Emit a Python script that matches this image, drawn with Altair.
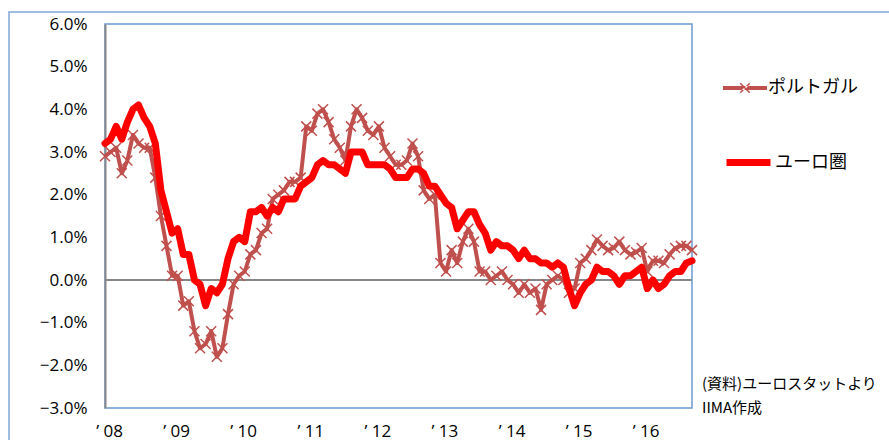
import altair as alt
import pandas as pd

# ---- data (monthly HICP y/y, %, Jan 2008 - Oct 2016) ----
portugal = [
    2.9, 3.0, 3.1, 2.5, 2.8, 3.4, 3.2, 3.1, 3.1, 2.4, 1.5, 0.8,      # 2008
    0.1, 0.1, -0.6, -0.5, -1.2, -1.6, -1.5, -1.2, -1.8, -1.6, -0.8, -0.1,  # 2009
    0.1, 0.2, 0.6, 0.7, 1.1, 1.2, 1.9, 2.0, 2.1, 2.3, 2.3, 2.4,      # 2010
    3.6, 3.5, 3.9, 4.0, 3.7, 3.3, 3.1, 2.8, 3.6, 4.0, 3.8, 3.5,      # 2011
    3.4, 3.6, 3.1, 2.9, 2.7, 2.7, 2.8, 3.2, 2.9, 2.1, 1.9, 2.0,      # 2012
    0.4, 0.2, 0.7, 0.4, 0.9, 1.2, 0.9, 0.2, 0.2, 0.0, 0.1, 0.2,      # 2013
    0.0, -0.1, -0.3, -0.1, -0.3, -0.2, -0.7, -0.1, 0.0, 0.1, 0.0, -0.3,  # 2014
    -0.2, 0.4, 0.5, 0.7, 0.95, 0.8, 0.7, 0.75, 0.9, 0.7, 0.6, 0.65,  # 2015
    0.75, 0.2, 0.45, 0.45, 0.4, 0.6, 0.75, 0.8, 0.8, 0.7,            # 2016
]
eurozone = [
    3.2, 3.3, 3.6, 3.3, 3.7, 4.0, 4.1, 3.8, 3.6, 3.2, 2.1, 1.6,      # 2008
    1.1, 1.2, 0.6, 0.6, 0.0, -0.1, -0.6, -0.2, -0.3, -0.1, 0.5, 0.9,  # 2009
    1.0, 0.9, 1.6, 1.6, 1.7, 1.5, 1.7, 1.6, 1.9, 1.9, 1.9, 2.2,      # 2010
    2.3, 2.4, 2.7, 2.8, 2.7, 2.7, 2.6, 2.5, 3.0, 3.0, 3.0, 2.7,      # 2011
    2.7, 2.7, 2.7, 2.6, 2.4, 2.4, 2.4, 2.6, 2.6, 2.5, 2.2, 2.2,      # 2012
    2.0, 1.8, 1.7, 1.2, 1.4, 1.6, 1.6, 1.3, 1.1, 0.7, 0.9, 0.8,      # 2013
    0.8, 0.7, 0.5, 0.7, 0.5, 0.5, 0.4, 0.4, 0.3, 0.4, 0.3, -0.2,     # 2014
    -0.6, -0.3, -0.1, 0.0, 0.3, 0.2, 0.2, 0.1, -0.1, 0.1, 0.1, 0.2,  # 2015
    0.3, -0.2, 0.0, -0.2, -0.1, 0.1, 0.2, 0.2, 0.4, 0.45,            # 2016
]
year_labels = ["\u2019 08", "\u2019 09", "\u2019 10", "\u2019 11", "\u2019 12",
               "\u2019 13", "\u2019 14", "\u2019 15", "\u2019 16"]
series_names = ["ポルトガル", "ユーロ圏"]
series_colors = ["#C0504D", "#FF0000"]
y_ticks = [-3, -2, -1, 0, 1, 2, 3, 4, 5, 6]
source_note = ["(資料)ユーロスタットより", "IIMA作成"]

n = len(portugal)
rows = []
for i in range(n):
    rows.append({"m": i, "series": series_names[0], "v": portugal[i]})
for i in range(n):
    rows.append({"m": i, "series": series_names[1], "v": eurozone[i]})
df = pd.DataFrame(rows)

JP = "Noto Sans CJK JP"
NUM = "Open Sans"
FRAME = "#7EA6D8"

label_array = "[" + ",".join("'" + s + "'" for s in year_labels) + "]"

x_enc = alt.X(
    "m:Q",
    scale=alt.Scale(domain=[0, n - 1], nice=False, zero=False),
    axis=alt.Axis(
        values=[12 * k for k in range(len(year_labels))],
        labelExpr=label_array + "[round(datum.value / 12)]",
        domain=False, ticks=False, grid=False, title=None,
        labelFont=NUM, labelFontSize=17, labelColor="#000000",
        labelPadding=15, labelOffset=4, labelFlush=False, labelOverlap=False,
    ),
)
y_enc = alt.Y(
    "v:Q",
    scale=alt.Scale(domain=[-3, 6], nice=False, zero=False),
    axis=alt.Axis(
        values=y_ticks,
        labelExpr="format(datum.value, '.1f') + '%'",
        domain=True, domainColor="#868686", domainWidth=2,
        ticks=False, grid=False, title=None,
        labelFont=NUM, labelFontSize=17, labelColor="#000000",
        labelPadding=18,
    ),
)

pt_path = ("M-1,-0.09H1V0.09H-1Z"
           "M-0.19,-0.24L0.24,0.19L0.19,0.24L-0.24,-0.19Z"
           "M-0.19,0.24L0.24,-0.19L0.19,-0.24L-0.24,0.19Z")

legend_common = dict(
    orient="none", title=None, padding=0, symbolSize=1936,
    labelFont=JP, labelFontSize=18, labelColor="#000000", labelOffset=1,
    labelLimit=300,
)

pt_color = alt.Color(
    "series:N",
    scale=alt.Scale(domain=[series_names[0]], range=[series_colors[0]]),
    legend=alt.Legend(
        legendX=618, legendY=42, symbolType=pt_path,
        symbolFillColor=series_colors[0], symbolStrokeWidth=0,
        symbolOpacity=1, **legend_common,
    ),
)
eu_color = alt.Color(
    "series:N",
    scale=alt.Scale(domain=[series_names[1]], range=[series_colors[1]]),
    legend=alt.Legend(
        legendX=618, legendY=113, symbolType="stroke",
        symbolStrokeWidth=7, symbolOpacity=1, **legend_common,
    ),
)

base = alt.Chart(df)

# outer chart-area frame (decoration; right/bottom edges fall just off the page)
frame = alt.Chart(pd.DataFrame({"f": [0]})).mark_rect(
    fill=None, stroke=FRAME, strokeWidth=1.5
).encode(
    x=alt.value(-96), x2=alt.value(786), y=alt.value(-12), y2=alt.value(418)
)

zero_line = base.mark_rule(color="#868686", strokeWidth=2).encode(y=alt.datum(0))

pt_line = base.transform_filter(alt.datum.series == series_names[0]).mark_line(
    strokeWidth=4, strokeJoin="round"
).encode(x=x_enc, y=y_enc, color=pt_color)

pt_marks = base.transform_filter(alt.datum.series == series_names[0]).mark_point(
    shape="M-1,-1L1,1M-1,1L1,-1", size=100, filled=False, strokeWidth=1.5,
    opacity=1, color=series_colors[0]
).encode(x=x_enc, y=y_enc)

eu_line = base.transform_filter(alt.datum.series == series_names[1]).mark_line(
    strokeWidth=7, strokeJoin="round", strokeCap="round"
).encode(x=x_enc, y=y_enc, color=eu_color)

chart = alt.layer(frame, zero_line, pt_line, pt_marks, eu_line).resolve_scale(
    color="independent"
).resolve_legend(color="independent").properties(
    width=587, height=384,
    autosize=alt.AutoSizeParams(type="none"),
    padding={"left": 105, "top": 24, "right": 197, "bottom": 32},
    background="#FFFFFF",
    title=alt.TitleParams(
        text=source_note, orient="bottom", anchor="end", align="left",
        frame="group", dx=10, dy=-70, font=JP, fontSize=15,
        fontWeight="normal", color="#000000", lineHeight=24, baseline="top",
    ),
).configure_view(stroke="#6C9BD2", strokeWidth=1.5)

chart.save("out.html", embed_options={"renderer": "svg", "actions": False})
